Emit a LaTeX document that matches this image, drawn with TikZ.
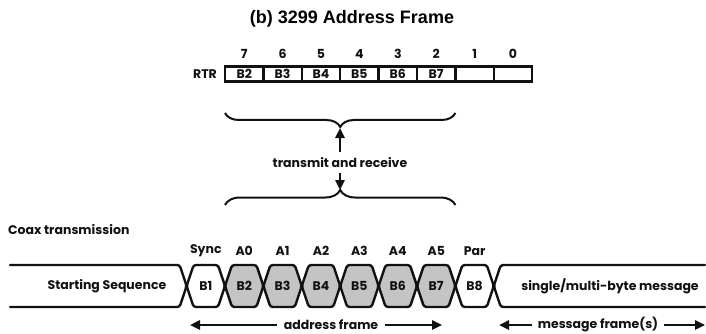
\documentclass[tikz,border=0pt]{standalone}
\usepackage{fontspec}
\setmainfont{Poppins}
\newfontfamily\titlefont{Liberation Sans}
\usetikzlibrary{positioning, arrows.meta, decorations.pathreplacing}
\definecolor{frame-gray}{HTML}{C4C4C4}
\definecolor{frame-dark}{HTML}{111111}

\begin{document}
\begin{tikzpicture}[x=1pt, y=-1pt,
    lbl/.style={font=\bfseries\fontsize{12.5}{14}\selectfont, text=frame-dark, inner sep=1pt},
    cell/.style={draw=frame-dark, line width=2.3pt, minimum width=38.4pt, minimum height=15pt, inner sep=0pt, lbl},
    byte/.style={draw=frame-dark, line width=2.4pt, rounded corners=2.5pt, line join=round},
    brc/.style={draw=frame-dark, line width=2pt, decorate},
    arr/.style={draw=frame-dark, line width=2.4pt, -{Triangle[length=10pt, width=9pt]}},
]
\useasboundingbox (0,0) rectangle (706,334);

% title
\node[font=\titlefont\bfseries\fontsize{18}{20}\selectfont] (title) at (352,19) {(b) 3299 Address Frame};

% RTR register
\node[lbl] (rtr) at (205,74) {RTR};
\foreach \n/\b [count=\i from 0] in {7/B2, 6/B3, 5/B4, 4/B5, 3/B6, 2/B7, 1/{}, 0/{}} {
    \node[cell] (r\i) at ({244.2+38.4*\i},74) {\b};
    \node[lbl] (bit\i) at ({244.2+38.4*\i},54) {\n};
}

% braces and transmit/receive arrows
\draw[brc, decoration={brace, mirror, amplitude=14pt}] (225,113) -- (455.4,113);
\draw[brc, decoration={brace, amplitude=15pt}] (225,205) -- (455.4,205);
\coordinate (uptip) at (340,128);
\coordinate (dntip) at (340,190);
\node[lbl] (trx) at (340,163) {transmit and receive};
\draw[arr, shorten <=5pt] (trx) -- (uptip);
\draw[arr, shorten <=4pt] (trx) -- (dntip);

% coax frame
\node[lbl, anchor=west] (coax) at (7,230) {Coax transmission};
\draw[byte, line cap=round] (10,265) -- (179.6,265) -- (186.6,286) -- (179.6,307) -- (10,307);
\node[lbl] (start) at (107,286) {Starting Sequence};
\foreach \b/\t/\f [count=\i from 0] in {B1/Sync/white, B2/A0/frame-gray, B3/A1/frame-gray,
        B4/A2/frame-gray, B5/A3/frame-gray, B6/A4/frame-gray, B7/A5/frame-gray, B8/Par/white} {
    \pgfmathsetmacro\xl{186.6+38.4*\i}
    \draw[byte, fill=\f] (\xl,286) -- (\xl+7,265) -- (\xl+31.4,265) -- (\xl+38.4,286)
        -- (\xl+31.4,307) -- (\xl+7,307) -- cycle;
    \node[lbl] (b\i) at (\xl+19.2,286) {\b};
    \node[lbl] (t\i) at (\xl+19.2,251) {\t};
}
\draw[byte, line cap=round] (705,265) -- (500.8,265) -- (493.8,286) -- (500.8,307) -- (705,307);
\node[lbl] (msg) at (610,286) {single/multi-byte message};

% frame extents
\node[lbl] (addr) at (331,325) {address frame};
\coordinate (addrL) at (190,325);
\coordinate (addrR) at (442,325);
\draw[arr, shorten <=6pt] (addr) -- (addrL);
\draw[arr, shorten <=6pt] (addr) -- (addrR);
\node[lbl] (msgf) at (598,325) {message frame(s)};
\coordinate (msgL) at (499,325);
\coordinate (msgR) at (705,325);
\draw[arr, shorten <=5pt] (msgf) -- (msgL);
\draw[arr, shorten <=5pt] (msgf) -- (msgR);
\end{tikzpicture}
\end{document}
